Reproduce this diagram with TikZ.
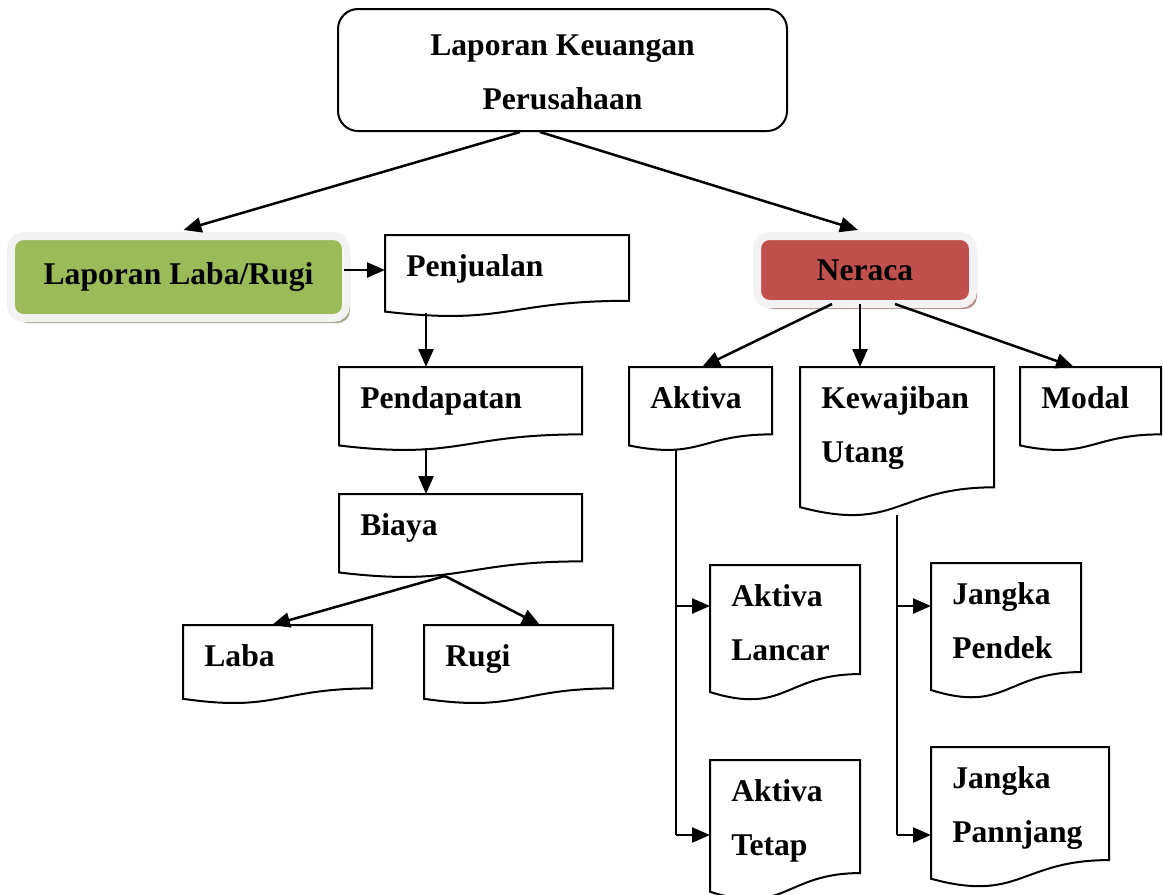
\documentclass[tikz,border=0pt]{standalone}
\usepackage{fontspec}
\setmainfont{Liberation Serif}
\usetikzlibrary{calc}
\usetikzlibrary{positioning}
\usetikzlibrary{arrows.meta,shadows}
\definecolor{labagreen}{RGB}{155,187,89}
\definecolor{neracared}{RGB}{192,80,77}
\definecolor{framegray}{RGB}{242,242,242}
\definecolor{greenshadow}{RGB}{165,172,140}
\definecolor{redshadow}{RGB}{185,140,140}
\tikzset{every picture/.style={/utils/exec={\bfseries\fontsize{18}{31}\selectfont}}}
\tikzset{
  arr/.style={-{Triangle[length=0.36cm,width=0.3cm]}, line width=0.05cm},
  docnode/.style={rectangle, draw=none, inner sep=0pt, outer sep=0pt, anchor=north west},
  docline/.style={line width=0.04cm, fill=white},
  doctext/.style={anchor=north west, inner sep=0pt, align=left},
  framebox/.style={rectangle, rounded corners=0.25cm, draw=framegray, line width=0.16cm, inner sep=0pt},
}
% document shape: name, left, top, width, height, text
\newcommand{\docbox}[6]{%
  \node[docnode, minimum width=#4*0.02cm, minimum height=#5*0.02cm] (#1) at (#2,#3) {};
  \draw[docline] (#1.north west) -- (#1.north east)
    -- ($(#1.north east)!0.802!(#1.south east)$)
    .. controls ($(#1.north)!0.802!(#1.south)$) and ($(#1.north)!1.107!(#1.south)$)
    .. ($(#1.north west)!0.934!(#1.south west)$) -- cycle;
  \node[doctext] (#1-text) at ($(#1.north west)+(21,19)$) {#6};
}

\begin{document}
\begin{tikzpicture}[x=0.02cm, y=-0.02cm]
  \useasboundingbox (0,0) rectangle (1163,894);

  \node [draw, rounded corners=0.4cm, line width=0.04cm, minimum width=449*0.02cm, minimum height=122*0.02cm, align=center] (lapkeu) at (562.5,70) {\rule{0pt}{0.5cm}Laporan Keuangan\\Perusahaan};

  \node [framebox, fill=labagreen, minimum width=335*0.02cm, minimum height=82*0.02cm,
         drop shadow={shadow xshift=0.08cm, shadow yshift=-0.1cm, fill=greenshadow, opacity=1}] (labarugi) at (178.5,277) {Laporan Laba/Rugi};
  \node [framebox, fill=neracared, minimum width=216*0.02cm, minimum height=68*0.02cm,
         drop shadow={shadow xshift=0.08cm, shadow yshift=-0.1cm, fill=redshadow, opacity=1}] (neraca) at (865,270) {Neraca};

  \docbox{penjualan}{385}{235}{244}{82}{Penjualan}
  \docbox{pendapatan}{339}{367}{243}{84}{Pendapatan}
  \docbox{biaya}{339}{494}{243}{84}{Biaya}
  \docbox{laba}{183}{625}{189}{79}{Laba}
  \docbox{rugi}{424}{625}{189}{79}{Rugi}
  \docbox{aktiva}{629}{367}{143}{84}{Aktiva}
  \docbox{kewajiban}{800}{367}{194}{150}{Kewajiban\\Utang}
  \docbox{modal}{1020}{367}{141}{84}{Modal}
  \docbox{lancar}{710}{565}{150}{136}{Aktiva\\Lancar}
  \docbox{tetap}{710}{760}{150}{141}{Aktiva\\Tetap}
  \docbox{pendek}{931}{563}{150}{136}{Jangka\\Pendek}
  \docbox{panjang}{931}{747}{178}{141}{Jangka\\Pannjang}

  \draw [arr] ($(lapkeu.south)+(-42.5,0)$) -- ($(labarugi.north)+(5,-2)$);
  \draw [arr] ($(lapkeu.south)+(-22.5,0)$) -- ($(neraca.north)+(-7,-2)$);

  \draw [arr] ($(labarugi.east)+(-6,-7)$) coordinate (lr) -- (lr -| penjualan.west);
  \draw [arr] ($(penjualan.south west)+(41,-4)$) coordinate (pj) -- (pj |- pendapatan.north);
  \draw [arr] ($(pendapatan.south west)+(87,-3)$) coordinate (pd) -- (pd |- biaya.north);
  \draw [arr] ($(biaya.south west)+(106,-2)$) coordinate (by) -- ($(laba.north west)+(89,0)$);
  \draw [arr] (by) -- ($(rugi.north west)+(116,0)$);

  \draw [arr] ($(neraca.south)+(-33,-4)$) -- ($(aktiva.north west)+(73,0)$);
  \draw [arr] ($(neraca.south)+(-5,-4)$) coordinate (nr) -- (nr |- kewajiban.north);
  \draw [arr] ($(neraca.south)+(30,-4)$) -- ($(modal.north west)+(54,0)$);

  % branches below Aktiva and Kewajiban
  \coordinate (ak) at ($(aktiva.south west)+(47,-2)$);
  \coordinate (ak1) at ($(ak |- lancar.north)+(0,41)$);
  \coordinate (ak2) at ($(ak |- tetap.north)+(0,75)$);
  \draw [line width=0.05cm] (ak) -- (ak2);
  \draw [arr] (ak1) -- (ak1 -| lancar.west);
  \draw [arr] (ak2) -- (ak2 -| tetap.west);

  \coordinate (kw) at ($(kewajiban.south west)+(97,-2)$);
  \coordinate (kw1) at ($(kw |- pendek.north)+(0,43)$);
  \coordinate (kw2) at ($(kw |- panjang.north)+(0,88)$);
  \draw [line width=0.05cm] (kw) -- (kw2);
  \draw [arr] (kw1) -- (kw1 -| pendek.west);
  \draw [arr] (kw2) -- (kw2 -| panjang.west);
\end{tikzpicture}
\end{document}
